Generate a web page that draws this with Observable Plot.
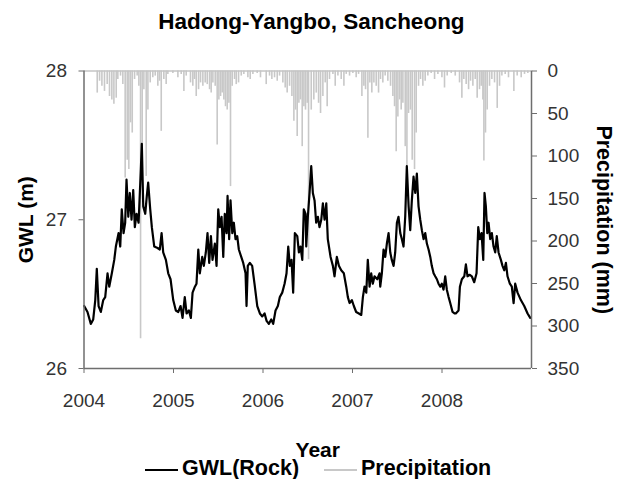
<!DOCTYPE html>
<html><head><meta charset="utf-8">
<script src="https://cdn.jsdelivr.net/npm/d3@7"></script>
<script src="https://cdn.jsdelivr.net/npm/@observablehq/plot@0.6"></script>
<style>
body{margin:0;background:#fff;font-family:"Liberation Sans",Arial,sans-serif;}
#wrap{position:relative;width:623px;height:479px;overflow:hidden;background:#fff;}
#title{position:absolute;left:0;top:9px;width:623px;text-align:center;font-size:22.5px;font-weight:bold;line-height:25px;color:#000;}
#chart{position:absolute;left:0;top:50px;}
#legend{position:absolute;left:0;top:459px;width:623px;height:20px;font-size:21.5px;font-weight:bold;line-height:19px;color:#000;}
.sw{position:absolute;top:10px;height:2px;width:33px;}
.lt{position:absolute;top:0;white-space:nowrap;}
</style></head><body>
<div id="wrap">
<div id="title">Hadong-Yangbo, Sancheong</div>
<div id="chart"></div>
<div id="legend">
  <span class="sw" style="left:145px;background:#000"></span><span class="lt" style="left:182px">GWL(Rock)</span>
  <span class="sw" style="left:324px;background:#c8c8c8"></span><span class="lt" style="left:361px">Precipitation</span>
</div>
</div>
<script>
const yearTicks = [2004, 2005, 2006, 2007, 2008];
const gwlTicks = [26, 27, 28];
const precipTicks = [0, 50, 100, 150, 200, 250, 300, 350];

const gwlYear = [2004.002,2004.039,2004.076,2004.103,2004.126,2004.143,2004.163,2004.188,2004.215,2004.237,2004.263,2004.282,2004.311,2004.338,2004.356,2004.386,2004.405,2004.422,2004.442,2004.460,2004.475,2004.495,2004.512,2004.531,2004.550,2004.568,2004.587,2004.610,2004.635,2004.646,2004.662,2004.684,2004.702,2004.717,2004.740,2004.758,2004.785,2004.822,2004.847,2004.867,2004.885,2004.915,2004.941,2004.967,2004.997,
2005.026,2005.053,2005.079,2005.101,2005.126,2005.146,2005.172,2005.194,2005.213,2005.239,2005.257,2005.277,2005.294,2005.321,2005.339,2005.361,2005.380,2005.399,2005.418,2005.436,2005.462,2005.481,2005.500,2005.518,2005.537,2005.556,2005.573,2005.593,2005.604,2005.622,2005.637,2005.657,2005.674,2005.693,2005.712,2005.730,2005.757,2005.779,2005.805,2005.816,2005.830,2005.853,2005.879,2005.905,2005.936,2005.965,2005.992,
2006.018,2006.040,2006.065,2006.092,2006.114,2006.140,2006.166,2006.188,2006.215,2006.241,2006.263,2006.282,2006.300,2006.319,2006.337,2006.356,2006.383,2006.401,2006.419,2006.439,2006.456,2006.476,2006.483,2006.501,2006.520,2006.539,2006.557,2006.576,2006.594,2006.613,2006.631,2006.651,2006.669,2006.688,2006.707,2006.724,2006.755,2006.781,2006.799,2006.825,2006.848,2006.874,2006.903,2006.930,2006.948,2006.967,2006.993,
2007.015,2007.041,2007.071,2007.098,2007.116,2007.134,2007.154,2007.171,2007.191,2007.209,2007.227,2007.246,2007.277,2007.302,2007.310,2007.328,2007.347,2007.366,2007.384,2007.403,2007.422,2007.439,2007.459,2007.477,2007.496,2007.514,2007.534,2007.551,2007.570,2007.589,2007.607,2007.627,2007.645,2007.663,2007.682,2007.701,2007.719,2007.738,2007.757,2007.775,2007.794,2007.813,2007.831,2007.850,2007.869,2007.886,2007.906,2007.924,2007.943,2007.961,2007.981,2007.998,
2008.017,2008.036,2008.054,2008.074,2008.092,2008.118,2008.140,2008.154,2008.185,2008.200,2008.222,2008.249,2008.267,2008.285,2008.311,2008.333,2008.360,2008.386,2008.405,2008.423,2008.442,2008.461,2008.475,2008.490,2008.506,2008.520,2008.539,2008.557,2008.576,2008.595,2008.612,2008.632,2008.658,2008.676,2008.696,2008.714,2008.732,2008.758,2008.780,2008.800,2008.818,2008.844,2008.881,2008.919,2008.956,2008.986];

const gwlLevel = [26.42,26.38,26.30,26.33,26.46,26.67,26.42,26.38,26.46,26.48,26.64,26.55,26.64,26.73,26.82,26.91,26.82,27.07,26.91,26.98,27.27,27.02,27.18,27.00,27.20,26.95,27.04,26.98,27.34,27.51,27.09,27.04,27.16,27.25,27.07,26.95,26.82,26.81,26.80,26.91,26.78,26.73,26.64,26.60,26.46,
26.39,26.38,26.42,26.34,26.48,26.37,26.39,26.34,26.51,26.55,26.57,26.80,26.64,26.75,26.69,26.78,26.91,26.71,26.89,26.73,26.84,26.69,27.07,26.95,27.02,26.75,27.04,26.91,27.16,26.87,27.13,26.91,26.98,26.87,26.89,26.80,26.75,26.71,26.64,26.42,26.69,26.71,26.69,26.57,26.42,26.37,26.35,
26.37,26.32,26.30,26.33,26.30,26.39,26.42,26.48,26.51,26.57,26.64,26.82,26.69,26.73,26.51,26.91,26.89,26.78,26.82,26.73,27.07,27.04,26.82,27.02,27.18,27.36,27.18,27.13,26.98,27.02,26.95,27.00,27.11,27.00,27.11,26.87,26.75,26.69,26.62,26.75,26.69,26.66,26.64,26.55,26.48,26.44,26.46,
26.42,26.38,26.37,26.36,26.48,26.55,26.51,26.73,26.55,26.64,26.57,26.62,26.60,26.64,26.55,26.64,26.80,26.75,26.84,26.91,26.78,26.73,26.69,26.78,26.98,27.02,26.91,26.87,26.82,27.02,27.36,27.09,26.93,27.13,27.29,27.18,27.31,27.09,27.00,26.93,26.87,26.91,26.84,26.80,26.75,26.69,26.64,26.62,26.60,26.57,26.55,26.57,
26.53,26.62,26.53,26.48,26.44,26.38,26.37,26.37,26.39,26.55,26.60,26.62,26.70,26.62,26.63,26.62,26.58,26.64,26.95,26.87,26.91,26.73,27.18,27.09,26.91,26.98,26.87,26.91,26.82,26.78,26.89,26.78,26.73,26.69,26.66,26.71,26.62,26.57,26.55,26.44,26.57,26.51,26.46,26.42,26.37,26.34];

const precipYear = [2004.148,2004.174,2004.200,2004.229,2004.259,2004.285,2004.311,2004.334,2004.360,2004.378,2004.408,2004.434,2004.460,2004.483,2004.501,2004.520,2004.539,2004.565,2004.594,2004.613,2004.632,2004.650,2004.669,2004.695,2004.714,2004.740,2004.769,2004.796,2004.825,2004.844,2004.863,2004.892,2004.918,2004.937,2004.993,
2005.049,2005.086,2005.116,2005.142,2005.190,2005.216,2005.235,2005.254,2005.280,2005.302,2005.328,2005.354,2005.377,2005.403,2005.421,2005.440,2005.466,2005.488,2005.507,2005.526,2005.544,2005.563,2005.581,2005.600,2005.619,2005.637,2005.656,2005.682,2005.701,2005.727,2005.757,2005.786,2005.831,2005.857,2005.887,2005.935,2005.972,
2006.036,2006.073,2006.099,2006.129,2006.159,2006.185,2006.222,2006.248,2006.270,2006.297,2006.323,2006.345,2006.364,2006.382,2006.401,2006.419,2006.438,2006.457,2006.475,2006.494,2006.509,2006.539,2006.568,2006.595,2006.621,2006.643,2006.669,2006.695,2006.717,2006.743,2006.781,2006.807,2006.837,2006.874,2006.904,2006.930,2006.967,
2007.004,2007.041,2007.068,2007.105,2007.127,2007.146,2007.172,2007.194,2007.216,2007.239,2007.265,2007.291,2007.313,2007.339,2007.365,2007.395,2007.425,2007.451,2007.470,2007.488,2007.507,2007.526,2007.544,2007.563,2007.589,2007.608,2007.626,2007.648,2007.667,2007.693,2007.712,2007.738,2007.760,2007.786,2007.812,2007.842,2007.879,2007.917,2007.954,2007.999,
2008.028,2008.058,2008.103,2008.148,2008.196,2008.222,2008.244,2008.270,2008.297,2008.319,2008.345,2008.371,2008.393,2008.419,2008.438,2008.457,2008.468,2008.486,2008.505,2008.531,2008.557,2008.587,2008.617,2008.643,2008.669,2008.706,2008.743,2008.803,2008.840,2008.885,2008.922,2008.959];

const precipMm = [26,12,18,24,16,30,34,39,32,10,6,16,126,105,116,61,73,10,6,18,315,89,22,124,46,14,8,6,18,12,71,10,16,4,3,
8,4,24,6,14,18,10,30,22,14,18,14,16,22,26,14,18,87,34,30,26,34,42,46,38,136,18,10,16,14,6,4,8,10,4,3,8,
16,6,10,8,12,6,14,20,26,18,30,59,46,77,38,34,89,42,46,38,222,46,34,26,38,50,30,14,42,10,4,18,6,10,18,4,6,
3,8,4,30,18,22,79,14,26,14,18,26,10,14,6,12,18,30,42,95,54,34,46,38,89,112,50,46,105,116,73,18,10,18,12,6,3,10,4,8,
20,6,3,6,14,32,10,16,22,12,18,10,32,22,18,34,106,73,46,18,10,14,44,18,6,4,8,24,6,8,4,3];

const gwl = gwlYear.map((y, i) => ({year: y, level: gwlLevel[i]}));
const rain = precipYear.map((y, i) => ({year: y, mm: precipMm[i]}));
const toY = mm => 28 - mm * 2 / 350;

const axisColor = "#6e6e6e";
const labelColor = "#333";

const plot = Plot.plot({
  width: 623, height: 409,
  marginLeft: 83.5, marginRight: 92, marginTop: 20.5, marginBottom: 91,
  style: {fontFamily: "Liberation Sans, Arial, sans-serif", fontSize: "19px", color: labelColor, background: "#fff", overflow: "visible"},
  x: {domain: [2004, 2009]},
  y: {domain: [26, 28]},
  marks: [
    Plot.ruleX(rain, {x: "year", y1: 28, y2: d => toY(d.mm), stroke: "#c8c8c8", strokeWidth: 1.6}),
    Plot.ruleY([28], {stroke: "#c4c4c4", strokeWidth: 1.5}),
    Plot.line(gwl, {x: "year", y: "level", stroke: "#000", strokeWidth: 2.2}),
    Plot.ruleX([2004, 2009], {stroke: axisColor, strokeWidth: 1.5}),
    Plot.ruleY([26], {stroke: axisColor, strokeWidth: 1.5}),
    Plot.axisX(yearTicks, {anchor: "bottom", tickSize: 5, tickPadding: 20, tickFormat: d => String(d), stroke: axisColor, fill: labelColor, fontSize: 19, label: null}),
    Plot.axisY(gwlTicks, {anchor: "left", tickSize: 5, tickPadding: 12, tickFormat: d => String(d), stroke: axisColor, fill: labelColor, fontSize: 19, label: null}),
    Plot.axisY(precipTicks.map(toY), {anchor: "right", tickSize: 5, tickPadding: 11, tickFormat: v => String(Math.round((28 - v) * 175)), stroke: axisColor, fill: labelColor, fontSize: 19, label: null}),
    Plot.text(["GWL (m)"], {text: d => d, frameAnchor: "left", dx: -58, rotate: -90, textAnchor: "middle", lineAnchor: "middle", fontSize: 21, fontWeight: "bold", fill: "#000"}),
    Plot.text(["Precipitation (mm)"], {text: d => d, frameAnchor: "right", dx: 72, rotate: 90, textAnchor: "middle", lineAnchor: "middle", fontSize: 21.5, fontWeight: "bold", fill: "#000"}),
    Plot.text(["Year"], {text: d => d, frameAnchor: "bottom", dx: 10, dy: 82, textAnchor: "middle", lineAnchor: "middle", fontSize: 21, fontWeight: "bold", fill: "#000"})
  ]
});
document.getElementById("chart").appendChild(plot);
</script>
</body></html>
